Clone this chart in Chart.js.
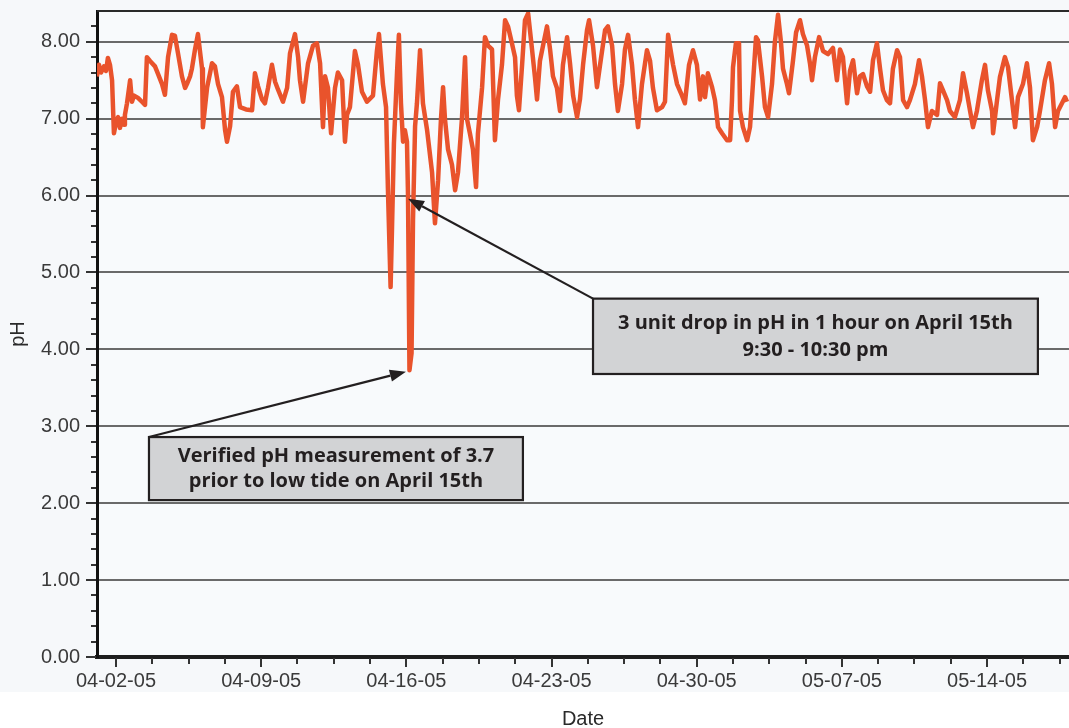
<!DOCTYPE html>
<html>
<head>
<meta charset="utf-8">
<script src="https://cdn.jsdelivr.net/npm/chart.js@4"></script>
<style>
  html, body { margin: 0; padding: 0; background: #ffffff; }
  #c { display: block; }
</style>
</head>
<body>
<canvas id="c" width="1069" height="728"></canvas>
<script>
// Days since 2005-04-01 00:00
const days = [0.08,0.18,0.28,0.42,0.52,0.61,0.71,0.81,0.90,1.00,1.10,1.19,1.29,1.39,1.43,1.53,1.68,1.77,1.87,2.06,2.25,2.40,2.49,2.64,2.88,3.03,3.22,3.36,3.51,3.70,3.84,3.99,4.18,4.33,4.42,4.57,4.66,4.81,4.95,5.15,5.19,5.39,5.63,5.77,5.92,6.11,6.26,6.35,6.50,6.64,6.83,6.98,7.27,7.56,7.70,7.85,8.04,8.18,8.33,8.52,8.67,8.81,9.05,9.25,9.39,9.63,9.78,9.87,10.02,10.26,10.50,10.69,10.84,10.98,11.08,11.22,11.37,11.56,11.70,11.90,12.04,12.14,12.28,12.52,12.67,12.86,13.10,13.39,13.58,13.68,13.87,
14.02,14.11,14.24,14.31,14.40,14.55,14.64,14.74,14.84,14.93,15.03,15.08,15.15,15.25,15.32,15.42,15.51,15.66,15.80,16.00,16.24,16.38,16.53,16.67,16.77,16.86,17.01,17.20,17.35,17.49,17.68,17.83,17.92,18.07,18.21,18.36,18.45,18.65,18.79,
18.94,19.13,19.27,19.42,19.61,19.76,19.90,20.09,20.24,20.33,20.43,20.58,20.72,20.87,21.06,21.20,21.30,21.44,21.59,21.78,21.93,22.07,22.26,22.41,22.55,22.75,22.89,23.04,23.23,23.37,23.52,23.71,23.81,24.00,24.19,24.34,24.58,24.72,24.92,25.06,25.20,25.40,25.54,25.69,25.88,26.02,26.17,26.36,26.60,26.75,26.89,27.08,27.33,27.47,27.62,27.86,28.05,28.29,28.43,28.63,28.82,29.01,29.16,29.30,29.40,29.54,29.74,29.88,30.03,30.22,30.46,30.61,30.70,30.75,30.89,31.04,31.09,31.23,31.43,31.57,31.71,31.86,31.95,32.15,32.29,32.44,32.63,32.77,32.92,33.06,33.16,33.35,33.45,33.64,33.79,33.98,34.12,34.32,34.46,34.56,34.70,34.90,35.09,35.33,35.57,35.76,35.91,36.05,36.25,36.39,36.54,36.73,36.87,37.02,37.21,37.36,37.50,37.69,37.84,37.98,38.17,38.32,38.46,38.66,38.80,38.95,39.14,39.28,39.52,39.72,39.86,40.01,40.15,40.34,40.59,40.73,40.87,41.07,41.21,41.45,41.69,41.84,42.03,42.18,42.32,42.51,42.75,42.90,43.04,43.24,43.29,43.48,43.62,43.86,44.01,44.20,44.35,44.49,44.73,44.92,45.07,45.21,45.41,45.55,45.79,45.99,46.13,46.28,46.42,46.61,46.76,46.85];

const ph = [7.55,7.70,7.60,7.68,7.62,7.79,7.70,7.50,6.81,6.95,7.02,6.88,7.00,6.92,7.05,7.20,7.50,7.22,7.30,7.27,7.22,7.18,7.80,7.75,7.68,7.58,7.45,7.31,7.80,8.09,8.08,7.85,7.55,7.40,7.45,7.55,7.65,7.90,8.10,7.65,6.89,7.40,7.72,7.68,7.45,7.28,6.85,6.70,6.90,7.35,7.42,7.15,7.12,7.11,7.59,7.42,7.25,7.20,7.40,7.70,7.48,7.38,7.22,7.40,7.85,8.10,7.80,7.50,7.22,7.72,7.95,7.98,7.72,6.89,7.55,7.40,6.81,7.40,7.60,7.50,6.70,7.05,7.15,7.88,7.70,7.35,7.22,7.30,7.88,8.10,7.45,
7.15,6.10,4.81,5.60,6.68,7.60,8.09,7.20,6.70,6.85,6.70,6.00,3.73,3.95,5.68,6.90,7.20,7.89,7.20,6.85,6.30,5.64,6.20,7.00,7.41,7.00,6.60,6.40,6.07,6.30,7.00,7.80,7.00,6.80,6.60,6.11,6.80,7.40,8.06,
7.95,7.90,6.72,7.25,7.70,8.28,8.20,7.98,7.80,7.30,7.11,7.70,8.28,8.37,7.90,7.54,7.25,7.75,7.95,8.20,7.90,7.55,7.40,7.10,7.70,8.06,7.72,7.30,7.02,7.25,7.70,8.15,8.28,7.95,7.41,7.70,8.15,8.20,7.95,7.45,7.10,7.45,7.90,8.09,7.70,7.25,6.89,7.45,7.89,7.75,7.40,7.11,7.15,7.22,8.09,7.70,7.45,7.30,7.20,7.70,7.89,7.70,7.25,7.55,7.28,7.59,7.41,7.24,6.89,6.81,6.72,6.72,7.24,7.67,7.98,7.98,7.10,6.89,6.72,6.89,7.45,8.06,8.02,7.55,7.15,7.02,7.45,8.00,8.35,8.00,7.65,7.45,7.33,7.75,8.12,8.28,8.10,7.95,7.72,7.50,7.80,8.06,7.88,7.84,7.92,7.50,7.90,7.80,7.20,7.62,7.76,7.33,7.55,7.58,7.42,7.35,7.76,7.98,7.65,7.37,7.24,7.20,7.65,7.89,7.80,7.24,7.15,7.24,7.45,7.76,7.55,7.24,6.89,7.10,7.05,7.46,7.37,7.24,7.10,7.02,7.24,7.59,7.33,7.10,6.89,7.10,7.50,7.70,7.37,7.10,6.81,7.24,7.54,7.80,7.67,7.24,6.89,7.28,7.45,7.72,7.40,6.72,6.89,7.10,7.50,7.72,7.45,6.89,7.10,7.20,7.28,7.22];

// Axis ticks (days since 2005-04-01)
const majorTickDays = [1, 8, 15, 22, 29, 36, 43];
const tickLabels = ['04-02-05','04-09-05','04-16-05','04-23-05','04-30-05','05-07-05','05-14-05'];
const minorPerWeek = 4;
const xMin = 0.084, xMax = 46.95;
const yMin = 0, yMax = 8.4;

// Annotations (data units: day, pH)
const notes = [
  { lines: ['Verified pH measurement of 3.7', 'prior to low tide on April 15th'],
    box: [2.59, 2.86, 20.62, 2.04], from: [2.59, 2.86], to: [14.98, 3.71] },
  { lines: ['3 unit drop in pH in 1 hour on April 15th', '9:30 - 10:30 pm'],
    box: [24.0, 4.66, 45.45, 3.68], from: [24.0, 4.66], to: [15.08, 5.96] }
];

const isMajorX = v => majorTickDays.some(d => Math.abs(d - v) < 1e-6);
const isInt = v => Math.abs(v - Math.round(v)) < 1e-6;

const decor = {
  id: 'decor',
  beforeDraw(chart) {
    const c = chart.ctx;
    c.save();
    c.fillStyle = '#f6f8fa';
    c.fillRect(0, 0, chart.width, 692);
    c.fillStyle = '#ffffff';
    c.fillRect(0, 692, chart.width, chart.height - 692);
    const a = chart.chartArea;
    c.fillStyle = '#f8fafc';
    c.fillRect(a.left, a.top, a.right - a.left, a.bottom - a.top);
    c.restore();
  },
  afterDraw(chart) {
    const c = chart.ctx, a = chart.chartArea;
    const xs = chart.scales.x, ys = chart.scales.y;
    c.save();
    c.strokeStyle = '#2a2a2a'; c.lineWidth = 2;
    c.beginPath(); c.moveTo(a.left, a.top); c.lineTo(a.right, a.top); c.stroke();
    c.strokeStyle = '#333'; c.lineWidth = 2;
    xs.ticks.forEach(t => {
      const px = Math.round(xs.getPixelForValue(t.value));
      const len = isMajorX(t.value) ? 10 : 7;
      c.beginPath(); c.moveTo(px, a.bottom + 1); c.lineTo(px, a.bottom + len); c.stroke();
    });
    ys.ticks.forEach(t => {
      if (t.value > yMax - 1e-6) return;
      const py = Math.round(ys.getPixelForValue(t.value));
      const len = isInt(t.value) ? 11 : 6;
      c.beginPath(); c.moveTo(a.left - 1, py); c.lineTo(a.left - len, py); c.stroke();
    });
    notes.forEach(n => {
      const x1 = xs.getPixelForValue(n.box[0]), y1 = ys.getPixelForValue(n.box[1]);
      const x2 = xs.getPixelForValue(n.box[2]), y2 = ys.getPixelForValue(n.box[3]);
      const fx = xs.getPixelForValue(n.from[0]), fy = ys.getPixelForValue(n.from[1]);
      const tx = xs.getPixelForValue(n.to[0]), ty = ys.getPixelForValue(n.to[1]);
      const ang = Math.atan2(ty - fy, tx - fx);
      const hl = 16, hw = 6;
      const bx = tx - hl * Math.cos(ang), by = ty - hl * Math.sin(ang);
      c.strokeStyle = '#231f20'; c.lineWidth = 2.2;
      c.beginPath(); c.moveTo(fx, fy); c.lineTo(bx, by); c.stroke();
      c.fillStyle = '#231f20';
      c.beginPath();
      c.moveTo(tx, ty);
      c.lineTo(bx + hw * Math.sin(ang), by - hw * Math.cos(ang));
      c.lineTo(bx - hw * Math.sin(ang), by + hw * Math.cos(ang));
      c.closePath(); c.fill();
      c.fillStyle = '#d2d3d5';
      c.fillRect(x1, y1, x2 - x1, y2 - y1);
      c.strokeStyle = '#231f20'; c.lineWidth = 2.2;
      c.strokeRect(x1, y1, x2 - x1, y2 - y1);
      c.fillStyle = '#231f20';
      c.font = 'bold 20px "Open Sans", "DejaVu Sans", sans-serif';
      c.textAlign = 'center'; c.textBaseline = 'middle';
      const cx = (x1 + x2) / 2, cy = (y1 + y2) / 2;
      const lh = (y2 - y1) > 70 ? 27 : 25;
      n.lines.forEach((s, i) => {
        c.fillText(s, cx, cy + (i - (n.lines.length - 1) / 2) * lh);
      });
    });
    c.restore();
  }
};

new Chart(document.getElementById('c'), {
  type: 'line',
  data: {
    datasets: [{
      data: days.map((d, i) => ({ x: d, y: ph[i] })),
      borderColor: '#e9532c',
      borderWidth: 4.5,
      pointRadius: 0,
      tension: 0,
      fill: false,
      borderJoinStyle: 'round'
    }]
  },
  options: {
    responsive: false,
    animation: false,
    devicePixelRatio: 1,
    layout: { padding: { top: 11, right: 0, left: 0, bottom: 0 } },
    plugins: { legend: { display: false }, tooltip: { enabled: false } },
    scales: {
      x: {
        type: 'linear', min: xMin, max: xMax,
        afterBuildTicks: (scale) => {
          const t = [];
          majorTickDays.forEach(d => {
            for (let k = 0; k < minorPerWeek; k++) {
              const v = d + k * 7 / minorPerWeek;
              if (v >= xMin && v <= xMax) t.push({ value: v });
            }
          });
          scale.ticks = t;
        },
        afterFit: (s) => { s.height = 71; s.paddingLeft = 0; s.paddingRight = 0; },
        grid: { drawOnChartArea: false, drawTicks: false },
        border: { color: '#1e1e1e', width: 4 },
        ticks: {
          autoSkip: false, maxRotation: 0, padding: 12,
          color: '#3a3a3a',
          font: { family: '"Liberation Sans", Arial, sans-serif', size: 20 },
          callback: (v) => {
            const i = majorTickDays.findIndex(d => Math.abs(d - v) < 1e-6);
            return i >= 0 ? tickLabels[i] : '';
          }
        },
        title: {
          display: true, text: 'Date', color: '#2a2a2a',
          font: { family: '"Liberation Sans", Arial, sans-serif', size: 20 },
          padding: { top: 0, bottom: -3 }
        }
      },
      y: {
        min: yMin, max: yMax,
        afterFit: (s) => { s.width = 97; s.paddingTop = 0; s.paddingBottom = 0; },
        grid: {
          drawTicks: false, lineWidth: 2,
          color: (ctx) => (ctx.tick && isInt(ctx.tick.value) && ctx.tick.value > 0 && ctx.tick.value < yMax) ? '#6a6a6a' : 'rgba(0,0,0,0)'
        },
        border: { color: '#111111', width: 3 },
        ticks: {
          stepSize: 0.2, autoSkip: false, padding: 17,
          color: '#3a3a3a',
          font: { family: '"Liberation Sans", Arial, sans-serif', size: 20 },
          callback: (v) => isInt(v) && v <= 8 ? Number(v).toFixed(2) : ''
        },
        title: {
          display: true, text: 'pH', color: '#2a2a2a',
          font: { family: '"Liberation Sans", Arial, sans-serif', size: 20 },
          padding: { top: 6, bottom: 0 }
        }
      }
    }
  },
  plugins: [decor]
});
</script>
</body>
</html>
